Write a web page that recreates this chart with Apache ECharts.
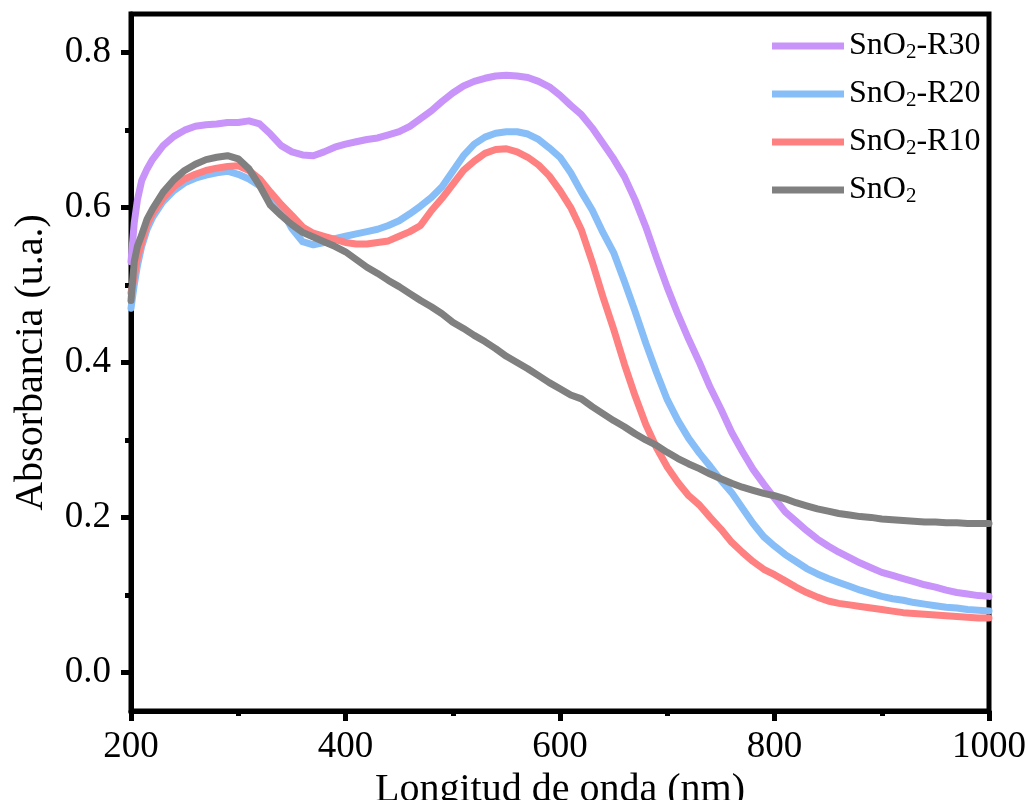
<!DOCTYPE html>
<html>
<head>
<meta charset="utf-8">
<script src="https://cdn.jsdelivr.net/npm/echarts@6/dist/echarts.min.js"></script>
<style>html,body{margin:0;padding:0;background:#fff;}#c{width:1028px;height:800px;}</style>
</head>
<body>
<div id="c"></div>
<script>
const wavelengths = [200,203,206,210,215,220,230,240,250,260,270,280,290,300,310,320,330,340,350,360,370,380,390,400,410,420,430,440,450,460,470,480,490,500,510,520,530,540,550,560,570,580,590,600,610,620,630,640,650,660,670,680,690,700,710,720,730,740,750,760,770,780,790,800,810,820,830,840,850,860,870,880,890,900,910,920,930,940,950,960,970,980,990,1000];

const sno2R30 = [0.53,0.58,0.61,0.635,0.65,0.662,0.68,0.692,0.70,0.705,0.707,0.708,0.71,0.71,0.712,0.708,0.695,0.68,0.672,0.668,0.667,0.672,0.678,0.682,0.685,0.688,0.69,0.694,0.698,0.705,0.715,0.725,0.737,0.748,0.757,0.763,0.767,0.77,0.771,0.77,0.768,0.763,0.756,0.745,0.732,0.72,0.703,0.683,0.663,0.64,0.61,0.575,0.535,0.497,0.462,0.43,0.40,0.368,0.34,0.31,0.285,0.262,0.243,0.225,0.207,0.195,0.183,0.172,0.163,0.155,0.148,0.141,0.135,0.129,0.125,0.121,0.117,0.113,0.11,0.106,0.103,0.101,0.099,0.098];

const sno2R20 = [0.47,0.50,0.525,0.55,0.572,0.587,0.608,0.622,0.632,0.638,0.642,0.645,0.647,0.643,0.637,0.628,0.613,0.598,0.573,0.556,0.552,0.555,0.56,0.563,0.566,0.569,0.572,0.577,0.583,0.592,0.602,0.613,0.627,0.647,0.667,0.682,0.691,0.696,0.698,0.698,0.695,0.688,0.677,0.665,0.645,0.62,0.597,0.568,0.542,0.505,0.466,0.425,0.387,0.352,0.325,0.302,0.283,0.266,0.248,0.232,0.212,0.192,0.175,0.163,0.152,0.143,0.134,0.127,0.121,0.116,0.111,0.106,0.102,0.098,0.095,0.093,0.09,0.088,0.086,0.084,0.083,0.081,0.08,0.079];

const sno2R10 = [0.49,0.51,0.535,0.555,0.578,0.592,0.612,0.627,0.637,0.643,0.648,0.651,0.653,0.654,0.648,0.637,0.62,0.604,0.59,0.575,0.567,0.563,0.559,0.555,0.553,0.553,0.555,0.557,0.563,0.569,0.577,0.596,0.612,0.63,0.648,0.66,0.67,0.675,0.676,0.672,0.665,0.655,0.641,0.622,0.6,0.571,0.53,0.485,0.443,0.398,0.357,0.32,0.29,0.265,0.245,0.228,0.216,0.2,0.185,0.168,0.155,0.143,0.133,0.126,0.118,0.11,0.103,0.097,0.092,0.089,0.087,0.085,0.083,0.081,0.079,0.077,0.076,0.075,0.074,0.073,0.072,0.071,0.07,0.07];

const sno2 = [0.48,0.53,0.55,0.565,0.585,0.598,0.62,0.636,0.648,0.656,0.662,0.665,0.667,0.663,0.65,0.628,0.603,0.59,0.578,0.568,0.562,0.556,0.55,0.543,0.533,0.523,0.515,0.506,0.498,0.489,0.48,0.472,0.463,0.452,0.444,0.435,0.427,0.418,0.408,0.40,0.392,0.383,0.374,0.366,0.358,0.353,0.343,0.334,0.325,0.317,0.308,0.30,0.293,0.284,0.276,0.269,0.263,0.256,0.25,0.244,0.239,0.235,0.231,0.228,0.224,0.219,0.215,0.211,0.208,0.205,0.203,0.201,0.20,0.198,0.197,0.196,0.195,0.194,0.194,0.193,0.193,0.192,0.192,0.192];

const seriesNames = ['SnO2-R30','SnO2-R20','SnO2-R10','SnO2'];
const seriesColors = ['#C894FA','#88BEF8','#FF8080','#808080'];
const seriesValues = [sno2R30, sno2R20, sno2R10, sno2];

const yMajorTicks = [0, 0.2, 0.4, 0.6, 0.8];
const yMinorTicks = [0.1, 0.3, 0.5, 0.7];

const xTitle = 'Longitud de onda (nm)';
const yTitle = 'Absorbancia (u.a.)';

const FONT = '"Liberation Serif","Times New Roman",serif';

const chart = echarts.init(document.getElementById('c'), null, {renderer:'canvas'});

const series = seriesNames.map((name, i) => ({
  name: name,
  type: 'line',
  showSymbol: false,
  symbol: 'none',
  z: 2 + i,
  lineStyle: {width: 7, color: seriesColors[i], cap: 'round', join: 'round'},
  itemStyle: {color: seriesColors[i]},
  data: wavelengths.map((w, k) => [w, seriesValues[i][k]])
}));

chart.setOption({
  animation: false,
  backgroundColor: '#fff',
  grid: {left: 131, right: 39, top: 14, bottom: 89, show: true, borderColor: '#000', borderWidth: 5, containLabel: false, outerBoundsMode: 'none'},
  legend: {
    orient: 'vertical',
    left: 767, top: 11,
    itemWidth: 72, itemHeight: 7, itemGap: 1,
    icon: 'rect',
    data: seriesNames,
    formatter: function(n){
      return '{a|SnO}{s|2}' + (n.length > 4 ? '{a|' + n.slice(4) + '}' : '');
    },
    textStyle: {
      fontFamily: FONT, fontSize: 32, color: '#000',
      rich: {
        a: {fontFamily: FONT, fontSize: 32, color: '#000', lineHeight: 34, verticalAlign: 'middle'},
        s: {fontFamily: FONT, fontSize: 21, color: '#000', lineHeight: 21, verticalAlign: 'bottom', padding: [26,0,0,0]}
      }
    }
  },
  xAxis: {
    type: 'value', min: 200, max: 1000, interval: 200,
    name: xTitle, nameLocation: 'middle', nameGap: 38,
    nameTextStyle: {fontFamily: FONT, fontSize: 40, color: '#000'},
    axisLine: {show: true, onZero: false, lineStyle: {color: '#000', width: 5}},
    axisTick: {show: true, inside: false, length: 10, lineStyle: {color: '#000', width: 5}},
    minorTick: {show: true, splitNumber: 2, length: 5, lineStyle: {color: '#000', width: 5}},
    axisLabel: {fontFamily: FONT, fontSize: 37, color: '#000', margin: 18, formatter: v => String(v)},
    splitLine: {show: false}
  },
  yAxis: [{
    type: 'value', min: -0.05, max: 0.85,
    name: yTitle, nameLocation: 'middle', nameGap: 80,
    nameTextStyle: {fontFamily: FONT, fontSize: 40, color: '#000'},
    axisLine: {show: true, onZero: false, lineStyle: {color: '#000', width: 5}},
    axisTick: {show: true, inside: false, length: 10, lineStyle: {color: '#000', width: 5}, customValues: yMajorTicks},
    minorTick: {show: false},
    axisLabel: {fontFamily: FONT, fontSize: 37, color: '#000', margin: 20, customValues: yMajorTicks, formatter: v => v.toFixed(1)},
    splitLine: {show: false}
  }, {
    type: 'value', min: -0.05, max: 0.85, position: 'left',
    axisLine: {show: false},
    axisTick: {show: true, inside: false, length: 6, lineStyle: {color: '#000', width: 5}, customValues: yMinorTicks},
    axisLabel: {show: false},
    splitLine: {show: false}
  }],
  series: series
});
</script>
</body>
</html>
